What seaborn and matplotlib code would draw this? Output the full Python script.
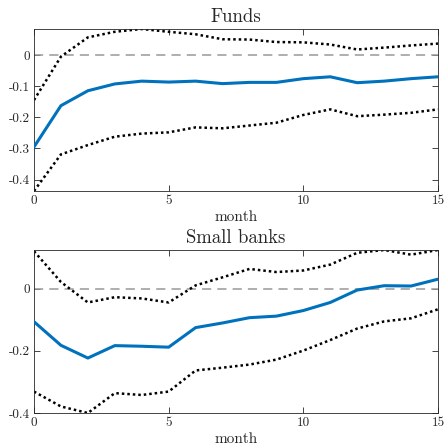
import matplotlib
matplotlib.use('Agg')
import matplotlib.pyplot as plt
import numpy as np
import pandas as pd
import seaborn as sns

months = list(range(16))

funds_mean = [-0.295, -0.162, -0.114, -0.092, -0.083, -0.086, -0.083, -0.091,
              -0.087, -0.087, -0.075, -0.069, -0.088, -0.083, -0.075, -0.069]
funds_upper = [-0.144, -0.004, 0.058, 0.076, 0.085, 0.076, 0.068, 0.052,
               0.051, 0.043, 0.042, 0.035, 0.019, 0.025, 0.032, 0.038]
funds_lower = [-0.437, -0.319, -0.289, -0.262, -0.252, -0.248, -0.232, -0.235,
               -0.226, -0.217, -0.192, -0.174, -0.196, -0.191, -0.185, -0.174]

banks_mean = [-0.106, -0.182, -0.223, -0.183, -0.185, -0.188, -0.125, -0.110,
              -0.093, -0.088, -0.070, -0.044, -0.004, 0.010, 0.009, 0.031]
banks_upper = [0.121, 0.022, -0.044, -0.027, -0.031, -0.044, 0.011, 0.037,
               0.064, 0.054, 0.059, 0.078, 0.116, 0.125, 0.110, 0.125]
banks_lower = [-0.331, -0.379, -0.400, -0.336, -0.342, -0.331, -0.263, -0.254,
               -0.244, -0.228, -0.199, -0.165, -0.128, -0.105, -0.095, -0.066]

panels = [
    ('Funds', funds_mean, funds_upper, funds_lower,
     [-0.4, -0.3, -0.2, -0.1, 0], ['-0.4', '-0.3', '-0.2', '-0.1', '0']),
    ('Small banks', banks_mean, banks_upper, banks_lower,
     [-0.4, -0.2, 0], ['-0.4', '-0.2', '0']),
]

sns.set_style('ticks')
plt.rcParams['font.family'] = ['cmr10', 'DejaVu Serif']
plt.rcParams['axes.unicode_minus'] = False
plt.rcParams['mathtext.fontset'] = 'cm'

fig = plt.figure(figsize=(4.45, 4.46), dpi=100)
rects = [[34 / 445, 1 - 191 / 446, 404 / 445, 162 / 446],
         [34 / 445, 1 - 413 / 446, 404 / 445, 163 / 446]]

for rect, (title, mean, upper, lower, yt, ytl) in zip(rects, panels):
    ax = fig.add_axes(rect)
    df = pd.DataFrame({'month': months, 'mean': mean, 'upper': upper, 'lower': lower})
    ax.axhline(0, color='#999999', lw=1.1, ls=(0, (6, 4)), zorder=1)
    sns.lineplot(data=df, x='month', y='mean', ax=ax, color='#0072BD', lw=2.2, zorder=3)
    sns.lineplot(data=df, x='month', y='upper', ax=ax, color='black', lw=1.8,
                 ls=(0, (1, 1.2)), zorder=2)
    sns.lineplot(data=df, x='month', y='lower', ax=ax, color='black', lw=1.8,
                 ls=(0, (1, 1.2)), zorder=2)
    ax.set_xlim(0, 15)
    ax.set_ylim(min(lower), max(upper))
    ax.set_xticks([0, 5, 10, 15])
    ax.set_xticklabels(['0', '5', '10', '15'])
    ax.set_yticks(yt)
    ax.set_yticklabels(ytl)
    ax.tick_params(direction='in', top=True, right=True, length=4, width=0.6,
                   labelsize=9.5, pad=3, colors='#262626')
    for s in ax.spines.values():
        s.set_linewidth(0.6)
        s.set_color('#262626')
    ax.set_title(title, fontsize=13.5, pad=5)
    ax.set_xlabel('month', fontsize=11, labelpad=2)
    ax.set_ylabel('')

fig.savefig('out.png', dpi=100)
